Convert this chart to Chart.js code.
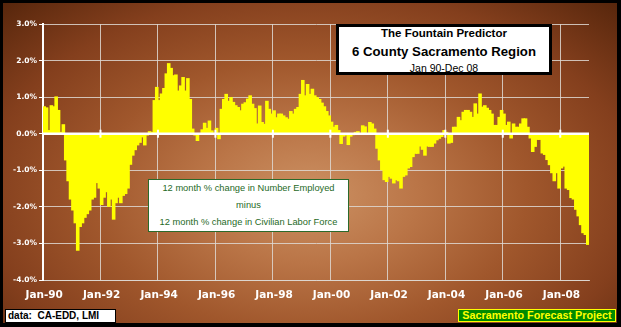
<!DOCTYPE html>
<html>
<head>
<meta charset="utf-8">
<script src="https://cdn.jsdelivr.net/npm/chart.js@4.4.1/dist/chart.umd.min.js"></script>
<style>
  html, body { margin: 0; padding: 0; background: #000; }
  #wrap { position: relative; width: 621px; height: 327px; overflow: hidden; background: #000; }
  #bg {
    position: absolute; left: 3px; top: 3px; width: 614px; height: 320px;
    background: radial-gradient(ellipse farthest-corner at 50% 60%, #cc9163 0%, #ba7547 25%, #a0572c 50%, #843f1d 75%, #57260c 100%);
  }
  #chart { position: absolute; left: 0; top: 0; }
  .box { position: absolute; box-sizing: border-box; text-align: center; white-space: nowrap; }
  .box span { position: absolute; left: 0; right: 0; display: block; }
  #title { left: 336px; top: 24px; width: 216px; height: 51px; background: #fff; border: 3px solid #000;
           font-family: 'Liberation Sans', Arial, sans-serif; color: #000; }
  #note { left: 148px; top: 179px; width: 201px; height: 53px; background: #fff; border: 1px solid #2b6a2b;
          font-family: 'Liberation Sans', Arial, sans-serif; font-size: 9.3px; line-height: 12px; color: #1f6a1f; }
  #src { left: 5px; top: 309px; width: 111px; height: 14px; background: #fff; border: 1px solid #000;
         font: bold 10px 'Liberation Sans', Arial, sans-serif; line-height: 12px; color: #000; text-align: left; padding-left: 2px; }
  #proj { left: 458px; top: 309px; width: 158px; height: 13px; background: #008a00; border: 1px solid #ffff00;
          font: bold 10.8px 'Liberation Sans', Arial, sans-serif; line-height: 11px; color: #ffff00; }
</style>
</head>
<body>
<div id="wrap">
  <div id="bg"></div>
  <canvas id="chart" width="621" height="327"></canvas>
  <div class="box" id="title">
    <span style="top:0;font-weight:bold;font-size:11.5px;line-height:12px">The Fountain Predictor</span>
    <span style="top:18px;font-weight:bold;font-size:13.2px;line-height:14px">6 County Sacramento Region</span>
    <span style="top:35px;font-size:10.5px;line-height:12px">Jan 90-Dec 08</span>
  </div>
  <div class="box" id="note">
    <span style="top:2px">12 month % change in Number Employed</span>
    <span style="top:19px">minus</span>
    <span style="top:36px">12 month % change in Civilian Labor Force</span>
  </div>
  <div class="box" id="src">data:&nbsp; CA-EDD, LMI</div>
  <div class="box" id="proj">Sacramento Forecast Project</div>
</div>
<script>
const MONTHS = ['Jan', 'Feb', 'Mar', 'Apr', 'May', 'Jun', 'Jul', 'Aug', 'Sep', 'Oct', 'Nov', 'Dec'];
const YEARS = ['90', '91', '92', '93', '94', '95', '96', '97', '98', '99',
               '00', '01', '02', '03', '04', '05', '06', '07', '08'];

// 12-month % change in employed minus 12-month % change in labor force, monthly
const y1990 = [0.75, 0.72, 0.1, 0.78, 0.75, 1.02, 0.65, 0.05, 0.26, -0.73, -1.3, -1.8];
const y1991 = [-2.1, -2.45, -3.2, -2.55, -2.45, -2.3, -2.2, -2.1, -1.8, -1.75, -1.35, -1.5];
const y1992 = [-1.95, -1.75, -1.6, -2.0, -1.8, -2.35, -1.9, -1.75, -1.9, -1.7, -1.65, -1.5];
const y1993 = [-0.85, -0.6, -0.45, -0.32, -0.25, -0.1, -0.32, -0.05, 0.07, 0.05, 0.92, 1.28];
const y1994 = [0.92, 1.1, 1.25, 1.65, 1.93, 1.8, 1.6, 1.62, 1.18, 1.32, 1.55, 1.18];
const y1995 = [1.52, 0.95, 0.14, -0.05, -0.2, 0.02, 0.12, 0.3, 0.16, 0.36, 0.09, 0.0];
const y1996 = [0.16, -0.15, 0.68, 0.95, 1.09, 0.9, 1.0, 0.87, 0.78, 0.73, 0.64, 0.82];
const y1997 = [0.86, 0.96, 1.05, 0.82, 0.7, 0.28, 0.77, 0.32, 0.27, 0.9, 0.68, 0.55];
const y1998 = [0.64, 0.45, 0.55, 0.55, 0.5, 0.45, 0.41, 0.62, 0.55, 0.68, 0.73, 1.09];
const y1999 = [1.47, 1.05, 1.36, 1.09, 1.23, 1.05, 1.0, 0.95, 0.85, 0.75, 0.62, 0.5];
const y2000 = [0.33, 0.19, 0.24, 0.1, -0.28, -0.08, -0.05, -0.31, -0.08, -0.04, 0.05, 0.07];
const y2001 = [0.0, 0.23, 0.2, 0.02, 0.32, 0.28, 0.14, -0.41, -0.73, -1.0, -1.27, -1.32];
const y2002 = [-1.18, -1.23, -1.36, -1.27, -1.3, -1.5, -1.18, -1.14, -0.95, -0.91, -0.64, -0.55];
const y2003 = [-0.55, -0.35, -0.44, -0.6, -0.35, -0.36, -0.36, -0.27, -0.18, -0.14, -0.09, 0.1];
const y2004 = [0.05, -0.27, -0.25, 0.19, 0.19, 0.46, 0.37, 0.6, 0.65, 0.65, 0.6, 0.46];
const y2005 = [0.83, 0.55, 1.1, 0.74, 0.78, 0.71, 0.65, 0.55, 0.24, 0.24, 0.46, 0.65];
const y2006 = [0.55, 0.24, 0.33, -0.13, 0.28, 0.19, 0.19, 0.28, 0.42, 0.42, 0.19, -0.13];
const y2007 = [-0.5, -0.36, -0.17, -0.17, -0.54, -0.58, -0.72, -0.86, -1.08, -1.3, -1.08, -1.5];
const y2008 = [-0.95, -0.9, -1.5, -1.54, -1.76, -1.8, -2.08, -2.26, -2.5, -2.72, -2.77, -3.04];

const Y_TICKS = [3, 2, 1, 0, -1, -2, -3, -4];

const labels = YEARS.flatMap(y => MONTHS.map(m => `${m}-${y}`));
const values = [].concat(y1990, y1991, y1992, y1993, y1994, y1995, y1996, y1997, y1998, y1999,
                         y2000, y2001, y2002, y2003, y2004, y2005, y2006, y2007, y2008);

const GRID = 'rgba(222,216,210,0.85)';
const EVERY = 24; // label / gridline every two years

// white zero line with small cross ticks, drawn over the bars
const zeroLine = {
  id: 'zeroLine',
  afterDatasetsDraw(chart) {
    const { ctx, chartArea: a, scales: { x, y } } = chart;
    const y0 = y.getPixelForValue(0);
    ctx.save();
    ctx.strokeStyle = '#fff';
    ctx.lineWidth = 2.5;
    ctx.beginPath();
    ctx.moveTo(a.left, y0);
    ctx.lineTo(a.right, y0);
    ctx.stroke();
    const half = (x.getPixelForValue(1) - x.getPixelForValue(0)) / 2;
    ctx.fillStyle = '#fff';
    for (let i = EVERY; i < labels.length; i += EVERY) {
      const px = x.getPixelForValue(i) - half;
      ctx.fillRect(px - 1, y0 - 4, 2, 8);
    }
    ctx.restore();
  },
};

const ctx = document.getElementById('chart').getContext('2d');
new Chart(ctx, {
  type: 'bar',
  data: {
    labels,
    datasets: [{
      data: values,
      backgroundColor: '#ffff00',
      borderWidth: 0,
      inflateAmount: 0,
      // bars overlap their neighbours by >1px so antialiased edges never leave seams
      barPercentage: 1.5,
      categoryPercentage: 1,
    }],
  },
  options: {
    responsive: false,
    animation: false,
    layout: { padding: { top: 24, right: 32, left: 0, bottom: 0 } },
    plugins: { legend: { display: false }, tooltip: { enabled: false } },
    scales: {
      x: {
        grid: {
          offset: true,
          drawTicks: false,
          color: c => (c.index % EVERY === 0 && c.index > 0) ? GRID : 'transparent',
        },
        border: { color: GRID, width: 1 },
        ticks: {
          autoSkip: false, maxRotation: 0, minRotation: 0, padding: 9,
          color: '#fff',
          font: { family: 'DejaVu Sans', size: 10.5, weight: 'bold' },
          callback: (v, i) => (i % EVERY === 0 ? labels[i] : ''),
        },
        afterFit: s => { s.height = 47; },
      },
      y: {
        min: Math.min(...Y_TICKS),
        max: Math.max(...Y_TICKS),
        afterBuildTicks: s => { s.ticks = Y_TICKS.map(v => ({ value: v })); },
        grid: {
          color: c => (c.tick && c.tick.value === 0 ? 'transparent' : GRID),
          tickColor: '#fff',
          tickLength: 4,
        },
        border: { color: '#fff', width: 2 },
        ticks: {
          padding: 2,
          color: '#fff',
          font: { family: 'DejaVu Sans', size: 7.5, weight: 'bold' },
          callback: v => v.toFixed(1) + '%',
        },
        afterFit: s => { s.width = 43; },
      },
    },
  },
  plugins: [zeroLine],
});
</script>
</body>
</html>
